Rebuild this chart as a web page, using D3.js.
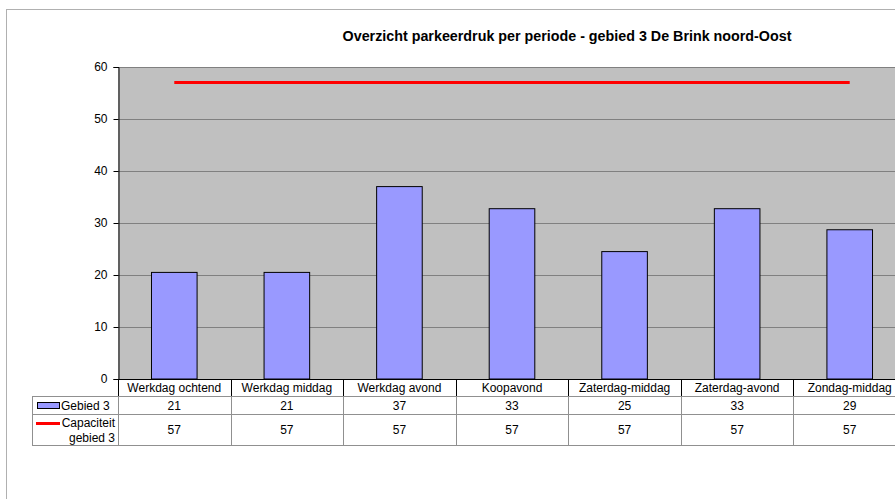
<!DOCTYPE html>
<html>
<head>
<meta charset="utf-8">
<script src="https://cdn.jsdelivr.net/npm/d3@7"></script>
<style>
  body { margin: 0; background: #fff; }
  svg { display: block; font-family: "Liberation Sans", Arial, sans-serif; }
</style>
</head>
<body>
<div id="chart"></div>
<script>
// data
const categories = ["Werkdag ochtend", "Werkdag middag", "Werkdag avond", "Koopavond",
  "Zaterdag-middag", "Zaterdag-avond", "Zondag-middag"];
const gebied3 = [20.5, 20.5, 37, 32.75, 24.5, 32.75, 28.7];
const capaciteit = [57, 57, 57, 57, 57, 57, 57];
const yTicks = [0, 10, 20, 30, 40, 50, 60];
const title = "Overzicht parkeerdruk per periode - gebied 3 De Brink noord-Oost";

const width = 895, height = 499;
const plot = { left: 118, right: 906, top: 67, bottom: 379 };

const svg = d3.select("#chart").append("svg")
  .attr("width", width)
  .attr("height", height);

// outer chart border (runs off the right and bottom)
svg.append("rect")
  .attr("x", 6.5).attr("y", 9.5)
  .attr("width", 1000).attr("height", 1000)
  .attr("fill", "#fff").attr("stroke", "#b0b0b0");

svg.append("text")
  .attr("x", 567).attr("y", 41)
  .attr("text-anchor", "middle")
  .attr("font-size", 14.3).attr("font-weight", "bold")
  .text(title);

const y = d3.scaleLinear().domain([0, 60]).range([plot.bottom, plot.top]);
const xCat = d3.scaleBand().domain(categories).range([plot.left, plot.right]);
const xBar = d3.scaleBand().domain(categories).range([plot.left, plot.right])
  .paddingInner(0.595).paddingOuter(0.2975);

// plot background
svg.append("rect")
  .attr("x", plot.left).attr("y", plot.top)
  .attr("width", plot.right - plot.left).attr("height", plot.bottom - plot.top)
  .attr("fill", "#c0c0c0");

// gridlines
svg.append("g").selectAll("line")
  .data(yTicks.filter(d => d > 0))
  .join("line")
  .attr("x1", plot.left).attr("x2", plot.right)
  .attr("y1", d => Math.round(y(d)) + 0.5).attr("y2", d => Math.round(y(d)) + 0.5)
  .attr("stroke", "#808080");

// bars
svg.append("g").selectAll("rect")
  .data(gebied3)
  .join("rect")
  .attr("x", (d, i) => xBar(categories[i]))
  .attr("y", d => y(d))
  .attr("width", xBar.bandwidth())
  .attr("height", d => y(0) - y(d))
  .attr("fill", "#9999ff")
  .attr("stroke", "#000")
  .attr("stroke-width", 1);

// capacity line
const capLine = d3.line()
  .x((d, i) => xCat(categories[i]) + xCat.bandwidth() / 2)
  .y(d => y(d));
svg.append("path")
  .datum(capaciteit)
  .attr("d", capLine)
  .attr("fill", "none")
  .attr("stroke", "#ff0000")
  .attr("stroke-width", 3);

// y axis
const yAxis = svg.append("g")
  .attr("transform", `translate(${plot.left + 0.5},0)`)
  .call(d3.axisLeft(y).tickValues(yTicks).tickSize(5).tickPadding(6));
yAxis.select(".domain").attr("stroke", "#000");
yAxis.selectAll("text").attr("font-size", 12).attr("font-family", "Liberation Sans, Arial, sans-serif").attr("fill", "#000");

// data table
const rows = { top: 379, head: 396, r1: 414, bottom: 445 };
const tableLeft = 32;
const fmt = d3.format(".0f");
const t = svg.append("g").attr("font-size", 12);

// horizontal table lines
[rows.head, rows.r1, rows.bottom].forEach(yy => {
  t.append("line")
    .attr("x1", tableLeft).attr("x2", plot.right)
    .attr("y1", yy + 0.5).attr("y2", yy + 0.5)
    .attr("stroke", "#909090");
});
t.append("line")
  .attr("x1", plot.left).attr("x2", plot.right)
  .attr("y1", rows.top + 0.5).attr("y2", rows.top + 0.5)
  .attr("stroke", "#000");

// vertical table lines
const bounds = categories.map(c => xCat(c)).concat([plot.right]);
t.selectAll(".vh").data(bounds).join("line")
  .attr("x1", d => Math.round(d) + 0.5).attr("x2", d => Math.round(d) + 0.5)
  .attr("y1", rows.top).attr("y2", rows.head)
  .attr("stroke", "#000");
t.selectAll(".vd").data(bounds).join("line")
  .attr("x1", d => Math.round(d) + 0.5).attr("x2", d => Math.round(d) + 0.5)
  .attr("y1", rows.head).attr("y2", rows.bottom)
  .attr("stroke", "#909090");
t.append("line")
  .attr("x1", tableLeft + 0.5).attr("x2", tableLeft + 0.5)
  .attr("y1", rows.head).attr("y2", rows.bottom)
  .attr("stroke", "#909090");

const cx = c => xCat(c) + xCat.bandwidth() / 2;

t.selectAll(".cat").data(categories).join("text")
  .attr("x", d => cx(d)).attr("y", 392)
  .attr("text-anchor", "middle")
  .text(d => d);
t.selectAll(".v1").data(gebied3).join("text")
  .attr("x", (d, i) => cx(categories[i])).attr("y", 410)
  .attr("text-anchor", "middle")
  .text(d => fmt(d));
t.selectAll(".v2").data(capaciteit).join("text")
  .attr("x", (d, i) => cx(categories[i])).attr("y", 434)
  .attr("text-anchor", "middle")
  .text(d => fmt(d));

// legend keys in the table
t.append("rect")
  .attr("x", 37.5).attr("y", 402.5).attr("width", 22).attr("height", 6)
  .attr("fill", "#9999ff").attr("stroke", "#000");
t.append("text")
  .attr("x", 61).attr("y", 410)
  .text("Gebied 3");
t.append("line")
  .attr("x1", 36).attr("x2", 60).attr("y1", 423.5).attr("y2", 423.5)
  .attr("stroke", "#ff0000").attr("stroke-width", 3);
t.append("text")
  .attr("x", 115).attr("y", 427).attr("text-anchor", "end")
  .text("Capaciteit");
t.append("text")
  .attr("x", 115).attr("y", 442).attr("text-anchor", "end")
  .text("gebied 3");
</script>
</body>
</html>
